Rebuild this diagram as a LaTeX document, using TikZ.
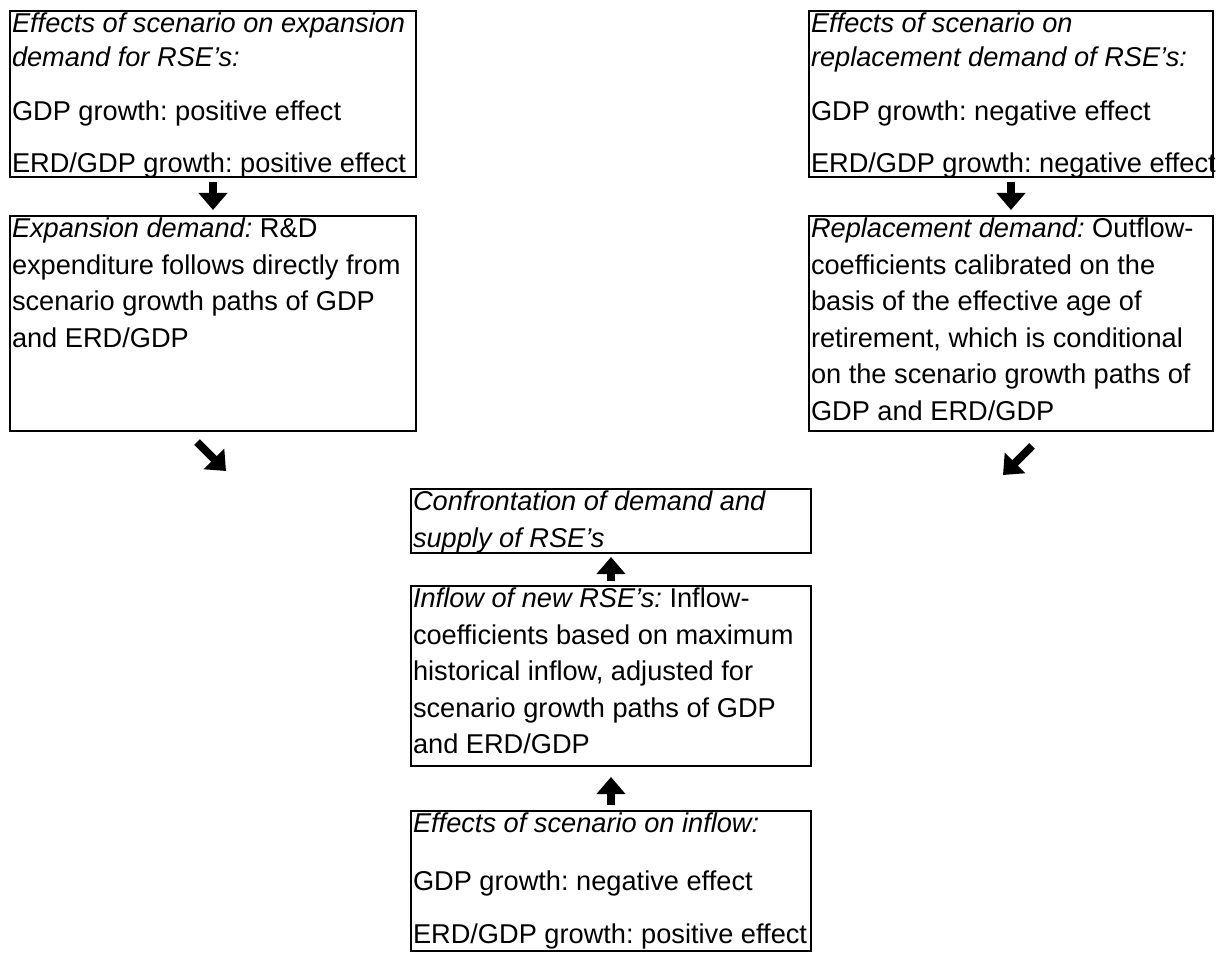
\documentclass[tikz,border=0pt]{standalone}
\usepackage{fontspec}
\setmainfont{Liberation Sans}
\usetikzlibrary{arrows.meta}
\frenchspacing
\newcommand{\boxtext}[3]{\parbox[t][#2][t]{#1}{\raggedright #3}}

\begin{document}
\begin{tikzpicture}[x=0.5pt, y=-0.5pt,
    rsebox/.style={draw, line width=1pt, inner sep=1pt, anchor=north west, font=\fontsize{13.6pt}{18.25pt}\selectfont},
    effbox/.style={rsebox, font=\fontsize{13.6pt}{17pt}\selectfont},
    blockarrow/.style={line width=4pt, -{Triangle[width=14pt,length=8.5pt]}}]
    \useasboundingbox (0,0) rectangle (1221,962);
    \node[effbox] (expeff) at (9,10) {\boxtext{201pt}{81pt}{\textit{Effects of scenario on expansion\\ demand for RSE’s:}\\[10pt] GDP growth: positive effect\\[9pt] \mbox{ERD/GDP growth: positive effect}}};
    \node[rsebox] (expdem) at (9,215) {\boxtext{201pt}{105.5pt}{\textit{Expansion demand:} R\&D\\ expenditure follows directly from\\ scenario growth paths of GDP\\ and ERD/GDP}};
    \node[effbox] (repeff) at (808,10) {\boxtext{200pt}{81pt}{\textit{Effects of scenario on\\ replacement demand of RSE’s:}\\[10pt] GDP growth: negative effect\\[9pt] \mbox{ERD/GDP growth: negative effect}}};
    \node[rsebox] (repdem) at (808,215) {\boxtext{200pt}{105.5pt}{\textit{Replacement demand:} Outflow-\\ coefficients calibrated on the\\ basis of the effective age of\\ retirement, which is conditional\\ on the scenario growth paths of\\ GDP and ERD/GDP}};
    \node[rsebox] (confront) at (410,488) {\boxtext{198pt}{30pt}{\textit{Confrontation of demand and\\ supply of RSE’s}}};
    \node[rsebox] (inflow) at (410,585) {\boxtext{198pt}{88pt}{\textit{Inflow of new RSE’s:} Inflow-\\ coefficients based on maximum\\ historical inflow, adjusted for\\ scenario growth paths of GDP\\ and ERD/GDP}};
    \node[effbox] (infloweff) at (410,810) {\boxtext{198pt}{68pt}{\textit{Effects of scenario on inflow:}\\[12pt] GDP growth: negative effect\\[9.5pt] \mbox{ERD/GDP growth: positive effect}}};
    \coordinate (expTail) at ([xshift=-8pt,yshift=-5pt]expdem.south);
    \coordinate (expHead) at ([xshift=6.5pt,yshift=-19.5pt]expdem.south);
    \coordinate (repTail) at ([xshift=10.5pt,yshift=-7pt]repdem.south);
    \coordinate (repHead) at ([xshift=-4pt,yshift=-21.5pt]repdem.south);
    \draw[blockarrow, shorten <=2pt, shorten >=2.5pt] (expeff.south) -- (expdem.north);
    \draw[blockarrow, shorten <=2pt, shorten >=2.5pt] (repeff.south) -- (repdem.north);
    \draw[blockarrow] (expTail) -- (expHead);
    \draw[blockarrow] (repTail) -- (repHead);
    \draw[blockarrow, shorten <=2pt, shorten >=1.5pt] (inflow.north) -- (confront.south);
    \draw[blockarrow, shorten <=2.5pt, shorten >=5pt] (infloweff.north) -- (inflow.south);
\end{tikzpicture}
\end{document}
